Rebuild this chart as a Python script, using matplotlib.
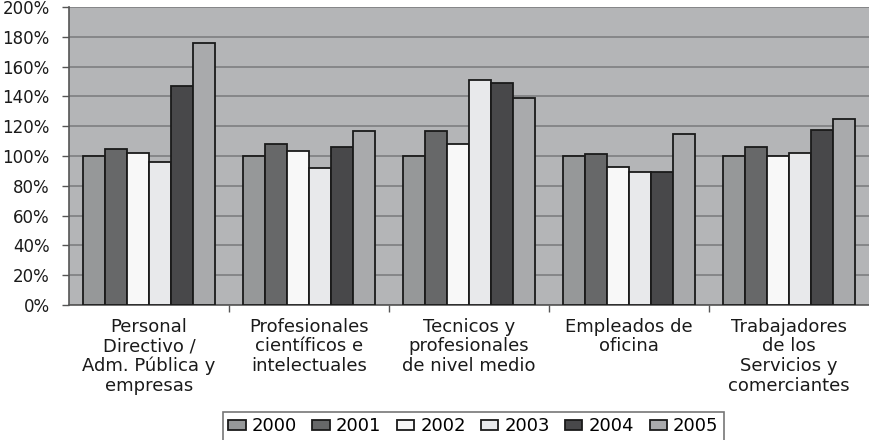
import matplotlib
matplotlib.use("Agg")
import matplotlib.pyplot as plt
import numpy as np
from matplotlib.ticker import FixedLocator

plt.rcParams['font.family'] = ['DejaVu Sans']

# categorias (eje x)
categorias = ['Personal\nDirectivo /\nAdm. Pública y\nempresas',
              'Profesionales\ncientíficos e\nintelectuales',
              'Tecnicos y\nprofesionales\nde nivel medio',
              'Empleados de\noficina',
              'Trabajadores\nde los\nServicios y\ncomerciantes']
anios = ['2000', '2001', '2002', '2003', '2004', '2005']

# indice (%) por anio, una lista por serie
v2000 = [100, 100, 100, 100, 100]
v2001 = [105, 108, 117, 101.5, 106]
v2002 = [102, 103.5, 108, 92.5, 100]
v2003 = [96, 92, 151, 89, 102]
v2004 = [147, 106, 149, 89, 117.5]
v2005 = [176, 117, 139, 114.5, 124.5]

series = [v2000, v2001, v2002, v2003, v2004, v2005]
colores = ['#969899', '#676869', '#f8f8f8', '#e8e9eb', '#48484a', '#a9aaac']
yticks = [0, 20, 40, 60, 80, 100, 120, 140, 160, 180, 200]

fig = plt.figure(figsize=(8.69, 4.40), dpi=100)
fig.patch.set_facecolor('white')
ax = fig.add_axes([69/869, 135/440, 800/869, 298/440])
ax.set_facecolor('#b4b5b7')

x = np.arange(len(categorias))
w = 0.1375
for i, (vals, c) in enumerate(zip(series, colores)):
    ax.bar(x + (i - 2.5) * w, vals, w, color=c, edgecolor='#1a1a1a',
           linewidth=1.3, label=anios[i], zorder=3)

ax.set_xlim(-0.5, len(categorias) - 0.5)
ax.set_ylim(0, 200)
ax.set_yticks(yticks)
ax.set_yticklabels(['%d%%' % t for t in yticks])
ax.yaxis.grid(True, color='#7d7e80', linewidth=1.2, zorder=0)
ax.set_axisbelow(True)

ax.set_xticks(x)
ax.set_xticklabels(categorias, fontsize=13, linespacing=1.12)
ax.xaxis.set_minor_locator(FixedLocator(np.arange(0.5, len(categorias) - 0.5, 1)))
ax.tick_params(axis='x', which='major', length=0, pad=9, colors='#1a1a1a')
ax.tick_params(axis='x', which='minor', length=5, width=1, color='#555555')
ax.tick_params(axis='y', length=5, width=1, color='#555555', pad=9,
               labelsize=12, labelcolor='#1a1a1a')

for s in ['top', 'right']:
    ax.spines[s].set_visible(False)
ax.spines['left'].set_color('#555555')
ax.spines['bottom'].set_color('#555555')
ax.spines['left'].set_linewidth(1.2)
ax.spines['bottom'].set_linewidth(1.2)

leg = fig.legend(loc='upper center', bbox_to_anchor=(473.5/869, 1 - 412/440),
                 ncol=6, fontsize=13, frameon=True, fancybox=False,
                 edgecolor='#555555', handlelength=0.95, handleheight=0.55,
                 handletextpad=0.35, columnspacing=0.85, borderpad=0.3,
                 borderaxespad=0)
leg.get_frame().set_linewidth(1.2)

fig.savefig('out.png', dpi=100, facecolor='white')
